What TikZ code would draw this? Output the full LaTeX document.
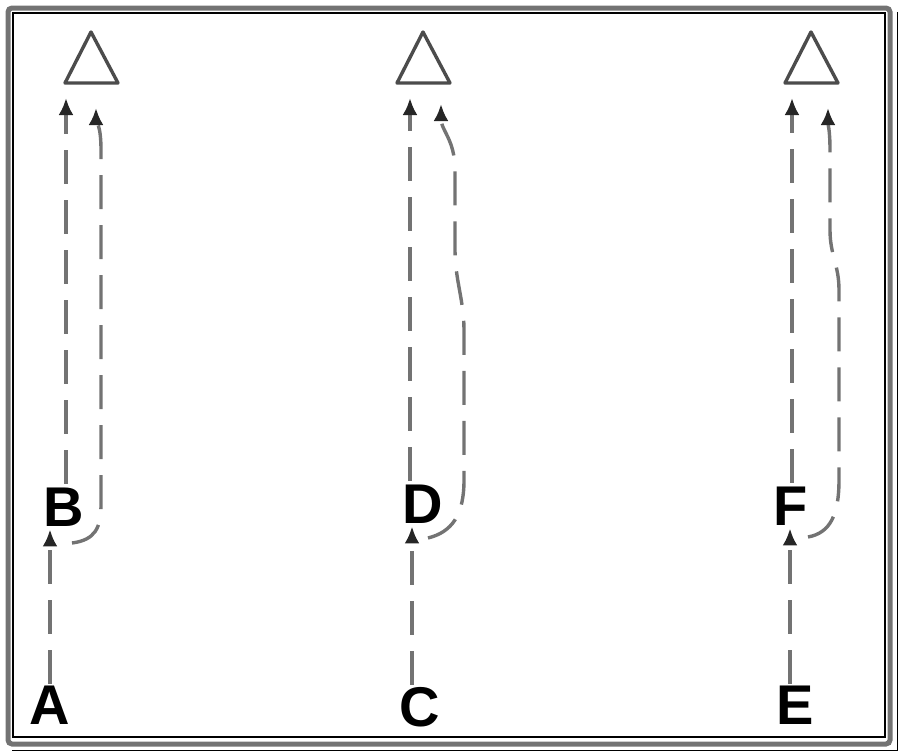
\documentclass[tikz,border=0pt]{standalone}
\usepackage{fontspec}
\setmainfont{Liberation Sans}
\usetikzlibrary{arrows.meta}
\begin{document}
\begin{tikzpicture}[x=1pt,y=1pt,
  letter/.style={inner sep=0pt, font=\fontsize{56}{56}\selectfont\bfseries},
  tri/.style={draw=black!70, line width=3.4pt, line join=round},
  arr/.style={draw=black!55, line width=3.4pt, dash pattern=on 34pt off 16pt,
    -{Latex[black!85,length=17pt,width=15pt]}}]
\useasboundingbox (0,0) rectangle (900,-753);
% frame
\draw[black!55, line width=5pt, rounded corners=4pt] (8,-8) rectangle (890,-744);
\draw[black, line width=1.4pt] (13,-13) rectangle (885,-737);
\draw[black, line width=1pt] (897,-12) -- (897,-750) -- (12,-750);
% triangles
\draw[tri] (91,-32) -- (118,-83) -- (65,-83) -- cycle;
\draw[tri] (423,-32) -- (450,-83) -- (397,-83) -- cycle;
\draw[tri] (811,-32) -- (838,-83) -- (785,-83) -- cycle;
% letters
\node[letter] (A) at (50,-705) {A};
\node[letter] (B) at (64,-507) {B};
\node[letter] (C) at (420,-707) {C};
\node[letter] (D) at (423,-504) {D};
\node[letter] (E) at (795,-705) {E};
\node[letter] (F) at (791,-506) {F};
% arrow end points
\coordinate (t1a) at (66,-98);
\coordinate (t1b) at (96,-108);
\coordinate (t2a) at (410,-98);
\coordinate (t2b) at (441,-104);
\coordinate (t3a) at (792,-98);
\coordinate (t3b) at (828,-108);
\coordinate (s1) at (72,-543);
\coordinate (s2) at (428,-538);
\coordinate (s3) at (808,-537);
% lower arrows
\draw[arr] ([yshift=2pt]A.north) -- ([yshift=-3pt]A.north |- B.south);
\draw[arr] ([xshift=-8pt,yshift=2pt]C.north) -- ([xshift=-8pt,yshift=-3pt]C.north |- D.south);
\draw[arr] ([xshift=-5pt,yshift=2pt]E.north) -- ([xshift=-5pt,yshift=-3pt]E.north |- F.south);
% straight upper arrows
\draw[arr] ([xshift=2pt,yshift=4pt]B.north) -- (t1a);
\draw[arr] ([xshift=-13pt,yshift=4pt]D.north) -- (t2a);
\draw[arr] ([xshift=1pt,yshift=4pt]F.north) -- (t3a);
% curved upper arrows
\draw[arr] (s1) .. controls (95,-540) and (101,-528) .. (101,-505) -- (101,-150) .. controls (101,-125) and (96,-120) .. (t1b);
\draw[arr] (s2) .. controls (452,-532) and (464,-515) .. (464,-480) -- (464,-330) .. controls (464,-300) and (455,-280) .. (455,-250) -- (455,-170) .. controls (455,-140) and (441,-130) .. (t2b);
\draw[arr] (s3) .. controls (830,-533) and (839,-515) .. (839,-480) -- (839,-290) .. controls (839,-265) and (830,-255) .. (830,-230) -- (830,-150) .. controls (830,-130) and (828,-125) .. (t3b);
\end{tikzpicture}
\end{document}
